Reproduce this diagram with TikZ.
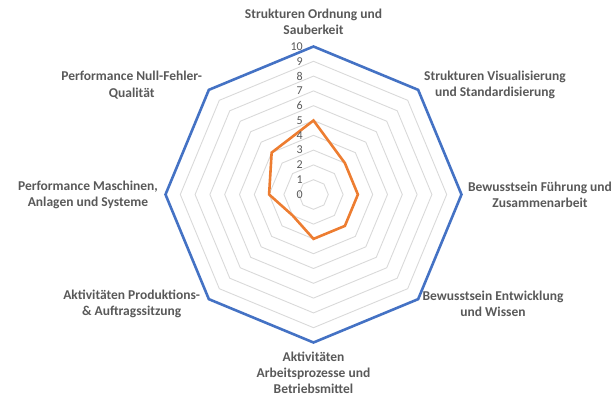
\documentclass[tikz,border=0pt]{standalone}
\usepackage{fontspec}
\setmainfont{Carlito}
\definecolor{txtgray}{HTML}{595959}
\definecolor{gridgray}{HTML}{D9D9D9}
\definecolor{outerblue}{HTML}{4472C4}
\definecolor{seriesorange}{HTML}{ED7D31}
\begin{document}
\begin{tikzpicture}[x=1pt,y=1pt,
  catlabel/.style={align=center,text=txtgray,font=\fontsize{13.5}{16.4}\selectfont\bfseries,inner sep=0pt},
  ticklabel/.style={anchor=east,text=txtgray,font=\fontsize{12}{12}\selectfont,inner sep=0pt},
  gridline/.style={draw=gridgray,line width=0.9pt,line join=miter},
  outerline/.style={draw=outerblue,line width=2.6pt,line join=miter},
  seriesline/.style={draw=seriesorange,line width=2.6pt,line join=miter}]
\def\U{14.8}
\useasboundingbox (-313.5,-202.5) rectangle (302.5,194.5);
% grid octagons 1..9
\foreach \k in {1,...,9}{
  \draw[gridline] (90:\k*\U) -- (45:\k*\U) -- (0:\k*\U) -- (-45:\k*\U) -- (-90:\k*\U) -- (-135:\k*\U) -- (180:\k*\U) -- (135:\k*\U) -- cycle;
}
% outer octagon
\draw[outerline] (90:10*\U) -- (45:10*\U) -- (0:10*\U) -- (-45:10*\U) -- (-90:10*\U) -- (-135:10*\U) -- (180:10*\U) -- (135:10*\U) -- cycle;
% data series
\draw[seriesline] (90:5*\U) -- (45:3*\U) -- (0:3*\U) -- (-45:3*\U) -- (-90:3*\U) -- (-135:2*\U) -- (180:3*\U) -- (135:4*\U) -- cycle;
% tick labels
\foreach \k in {0,...,10}{
  \node[ticklabel] (t\k) at (-10.5,\k*\U) {\k};
}
% category labels
\node[catlabel] (c1) at (0,172.5) {Strukturen Ordnung und\\Sauberkeit};
\node[catlabel] (c2) at (181.5,109.5) {Strukturen Visualisierung\\und Standardisierung};
\node[catlabel] (c3) at (226.5,-0.5) {Bewusstsein Führung und\\Zusammenarbeit};
\node[catlabel] (c4) at (179.5,-109.2) {Bewusstsein Entwicklung\\und Wissen};
\node[catlabel] (c5) at (0,-178.3) {Aktivitäten\\Arbeitsprozesse und\\Betriebsmittel};
\node[catlabel] (c6) at (-181.8,-109.5) {Aktivitäten Produktions-\\\& Auftragssitzung};
\node[catlabel] (c7) at (-225.5,-0.5) {Performance Maschinen,\\Anlagen und Systeme};
\node[catlabel] (c8) at (-181.8,109.5) {Performance Null-Fehler-\\Qualität};
\end{tikzpicture}
\end{document}
